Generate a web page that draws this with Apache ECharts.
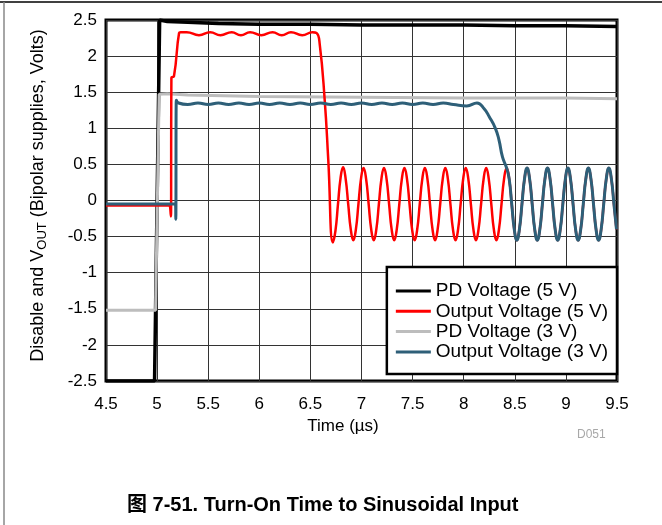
<!DOCTYPE html>
<html>
<head>
<meta charset="utf-8">
<script src="https://cdn.jsdelivr.net/npm/echarts@6/dist/echarts.min.js"></script>
<style>
html,body{margin:0;padding:0;background:#fff;}
#chart{width:662px;height:525px;}
</style>
</head>
<body>
<div id="chart"></div>
<script>
// ---- Tick labels ----
const xTickLabels = ['4.5','5','5.5','6','6.5','7','7.5','8','8.5','9','9.5'];
const yTickLabels = ['-2.5','-2','-1.5','-1','-0.5','0','0.5','1','1.5','2','2.5'];

// ---- Series names ----
const seriesNames = ['PD Voltage (5 V)', 'Output Voltage (5 V)', 'PD Voltage (3 V)', 'Output Voltage (3 V)'];

// ---- PD Voltage (5 V) ----
const pd5Time = [4.5, 4.975, 5.025, 5.1, 5.3, 5.6, 6.0, 6.5, 7.0, 8.0, 8.5, 9.0, 9.5];
const pd5Volt = [-2.5, -2.5, 2.5, 2.48, 2.47, 2.45, 2.44, 2.44, 2.43, 2.43, 2.42, 2.42, 2.41];

// ---- PD Voltage (3 V) ----
const pd3Time = [4.5, 4.985, 5.02, 5.1, 5.3, 6.0, 7.0, 8.0, 9.0, 9.5];
const pd3Volt = [-1.52, -1.52, 1.47, 1.48, 1.46, 1.44, 1.43, 1.42, 1.42, 1.41];

// ---- Output Voltage (5 V) ----
const out5Time = [4.5, 5.125, 5.13, 5.135, 5.14, 5.165, 5.215, 5.23,
  5.29, 5.41, 5.52, 5.62, 5.73, 5.82, 5.91, 6.02, 6.13, 6.22, 6.31, 6.42, 6.52,
  6.56, 6.59, 6.64, 6.675, 6.72, 6.745,
  6.77, 6.795, 6.82, 6.845, 6.87, 6.895, 6.92, 6.945,
  6.97, 6.995, 7.02, 7.045, 7.07, 7.095, 7.12, 7.145,
  7.17, 7.195, 7.22, 7.245, 7.27, 7.295, 7.32, 7.345,
  7.37, 7.395, 7.42, 7.445, 7.47, 7.495, 7.52, 7.545,
  7.57, 7.595, 7.62, 7.645, 7.67, 7.695, 7.72, 7.745,
  7.77, 7.795, 7.82, 7.845, 7.87, 7.895, 7.92, 7.945,
  7.97, 7.995, 8.02, 8.045, 8.07, 8.095, 8.12, 8.145,
  8.17, 8.195, 8.22, 8.245, 8.27, 8.295, 8.32, 8.345,
  8.37, 8.395, 8.42, 8.445, 8.47, 8.495, 8.52, 8.545,
  8.57, 8.595, 8.62, 8.645, 8.67, 8.695, 8.72, 8.745,
  8.77, 8.795, 8.82, 8.845, 8.87, 8.895, 8.92, 8.945,
  8.97, 8.995, 9.02, 9.045, 9.07, 9.095, 9.12, 9.145,
  9.17, 9.195, 9.22, 9.245, 9.27, 9.295, 9.32, 9.345,
  9.37, 9.395, 9.42, 9.445, 9.47, 9.495];
const out5Volt = [-0.07, -0.07, -0.07, -0.22, 1.70, 1.72, 2.32, 2.33,
  2.33, 2.29, 2.33, 2.29, 2.33, 2.29, 2.33, 2.29, 2.33, 2.29, 2.33, 2.29, 2.33,
  2.32, 2.18, 1.39, 0.56, -0.58, -0.42,
  -0.05, 0.31, 0.46, 0.30, -0.05, -0.40, -0.55, -0.40,
  -0.05, 0.30, 0.45, 0.30, -0.05, -0.40, -0.55, -0.40,
  -0.05, 0.30, 0.45, 0.30, -0.05, -0.40, -0.55, -0.40,
  -0.05, 0.30, 0.45, 0.30, -0.05, -0.40, -0.55, -0.40,
  -0.05, 0.30, 0.45, 0.30, -0.05, -0.40, -0.55, -0.40,
  -0.05, 0.30, 0.45, 0.30, -0.05, -0.40, -0.55, -0.40,
  -0.05, 0.30, 0.45, 0.30, -0.05, -0.40, -0.55, -0.40,
  -0.05, 0.30, 0.45, 0.30, -0.05, -0.40, -0.55, -0.40,
  -0.05, 0.30, 0.45, 0.30, -0.05, -0.40, -0.55, -0.40,
  -0.05, 0.30, 0.45, 0.30, -0.05, -0.40, -0.55, -0.40,
  -0.05, 0.30, 0.45, 0.30, -0.05, -0.40, -0.55, -0.40,
  -0.05, 0.30, 0.45, 0.30, -0.05, -0.40, -0.55, -0.40,
  -0.05, 0.30, 0.45, 0.30, -0.05, -0.40, -0.55, -0.40,
  -0.05, 0.30, 0.45, 0.30, -0.05, -0.40];

// ---- Output Voltage (3 V) ----
const out3Time = [4.5, 5.17, 5.18, 5.183, 5.188, 5.21,
  5.3, 5.4, 5.5, 5.6, 5.7, 5.8, 5.9, 6.0, 6.1, 6.2, 6.3, 6.4, 6.5, 6.6, 6.7, 6.8, 6.9,
  7.0, 7.1, 7.2, 7.3, 7.4, 7.5, 7.6, 7.7, 7.8, 7.9, 8.03, 8.13,
  8.2, 8.25, 8.31, 8.345, 8.38,
  8.42, 8.445, 8.47, 8.495, 8.52, 8.545,
  8.57, 8.595, 8.62, 8.645, 8.67, 8.695, 8.72, 8.745,
  8.77, 8.795, 8.82, 8.845, 8.87, 8.895, 8.92, 8.945,
  8.97, 8.995, 9.02, 9.045, 9.07, 9.095, 9.12, 9.145,
  9.17, 9.195, 9.22, 9.245, 9.27, 9.295, 9.32, 9.345,
  9.37, 9.395, 9.42, 9.445, 9.47, 9.495];
const out3Volt = [-0.05, -0.05, -0.05, -0.26, 1.39, 1.35,
  1.33, 1.35, 1.33, 1.35, 1.33, 1.35, 1.33, 1.35, 1.33, 1.35, 1.33, 1.35, 1.33, 1.35, 1.33, 1.35, 1.33,
  1.35, 1.33, 1.35, 1.33, 1.35, 1.33, 1.35, 1.33, 1.35, 1.33, 1.31, 1.35,
  1.27, 1.16, 1.0, 0.84, 0.6,
  0.45, 0.30, -0.05, -0.40, -0.55, -0.40,
  -0.05, 0.30, 0.45, 0.30, -0.05, -0.40, -0.55, -0.40,
  -0.05, 0.30, 0.45, 0.30, -0.05, -0.40, -0.55, -0.40,
  -0.05, 0.30, 0.45, 0.30, -0.05, -0.40, -0.55, -0.40,
  -0.05, 0.30, 0.45, 0.30, -0.05, -0.40, -0.55, -0.40,
  -0.05, 0.30, 0.45, 0.30, -0.05, -0.40];

function zip(t, v) { return t.map((x, i) => [x, v[i]]); }

const FONT = '"Liberation Sans", Arial, Helvetica, sans-serif';
const chart = echarts.init(document.getElementById('chart'), null, {renderer: 'canvas'});

chart.setOption({
  animation: false,
  backgroundColor: '#fff',
  textStyle: {fontFamily: FONT},
  title: [
    {
      text: '图 7-51. Turn-On Time to Sinusoidal Input',
      left: 127, top: 495, padding: 0,
      textStyle: {fontSize: 20, fontWeight: 'bold', color: '#000',
        fontFamily: '"Liberation Sans", Arial, "Noto Sans CJK SC", sans-serif'}
    },
    {
      text: 'D051', left: 577, top: 429, padding: 0,
      textStyle: {fontSize: 12, fontWeight: 'normal', color: '#a8a8a8', fontFamily: FONT}
    }
  ],
  graphic: [
    {type: 'line', shape: {x1: 0, y1: 2, x2: 662, y2: 2}, style: {stroke: '#000', lineWidth: 1.5}},
    {type: 'line', shape: {x1: 4, y1: 2, x2: 4, y2: 525}, style: {stroke: '#888', lineWidth: 1.5}}
  ],
  grid: {
    left: 106, right: 45, top: 20, bottom: 144,
    show: true, borderColor: '#000', borderWidth: 3, backgroundColor: 'transparent'
  },
  legend: {
    data: seriesNames,
    orient: 'vertical',
    right: 45, top: 267,
    padding: [14, 9, 12, 9],
    backgroundColor: '#fff', borderColor: '#000', borderWidth: 2.5,
    icon: 'rect', itemWidth: 35, itemHeight: 3, itemGap: 0.3, itemTextGap: 11,
    selectedMode: false,
    textStyle: {fontSize: 19, lineHeight: 20, color: '#000', fontFamily: FONT},
    z: 10
  },
  xAxis: {
    type: 'value', min: 4.5, max: 9.5, interval: 0.5,
    name: 'Time (µs)', nameLocation: 'middle', nameGap: 37,
    nameTextStyle: {fontSize: 17, color: '#000', padding: [0, 37, 0, 0], fontFamily: FONT},
    axisLine: {show: false}, axisTick: {show: false},
    axisLabel: {fontSize: 17, color: '#000', margin: 15, fontFamily: FONT,
      formatter: (v, i) => xTickLabels[i]},
    splitLine: {show: true, lineStyle: {color: '#333', width: 1}}
  },
  yAxis: {
    type: 'value', min: -2.5, max: 2.5, interval: 0.5,
    name: 'Disable and V{sub|OUT} (Bipolar supplies, Volts)',
    nameLocation: 'middle', nameGap: 57,
    nameTextStyle: {fontSize: 18, color: '#000', fontFamily: FONT, padding: [0, 0, 0, 10],
      rich: {sub: {fontSize: 13, color: '#000', padding: [8, 0, 0, 0], fontFamily: FONT}}},
    axisLine: {show: false}, axisTick: {show: false},
    axisLabel: {fontSize: 17, color: '#000', margin: 9, fontFamily: FONT,
      formatter: (v, i) => yTickLabels[i]},
    splitLine: {show: true, lineStyle: {color: '#333', width: 1}}
  },
  series: [
    {name: seriesNames[0], type: 'line', data: zip(pd5Time, pd5Volt), symbol: 'none',
      lineStyle: {color: '#000', width: 3.5}, itemStyle: {color: '#000'}},
    {name: seriesNames[2], type: 'line', data: zip(pd3Time, pd3Volt), symbol: 'none',
      lineStyle: {color: '#bdbdbd', width: 3}, itemStyle: {color: '#bdbdbd'}},
    {name: seriesNames[1], type: 'line', data: zip(out5Time, out5Volt), symbol: 'none', smooth: 0.5,
      lineStyle: {color: '#ff0000', width: 2.5}, itemStyle: {color: '#ff0000'}},
    {name: seriesNames[3], type: 'line', data: zip(out3Time, out3Volt), symbol: 'none', smooth: 0.5,
      lineStyle: {color: '#2e5f78', width: 3}, itemStyle: {color: '#2e5f78'}}
  ]
});
</script>
</body>
</html>
